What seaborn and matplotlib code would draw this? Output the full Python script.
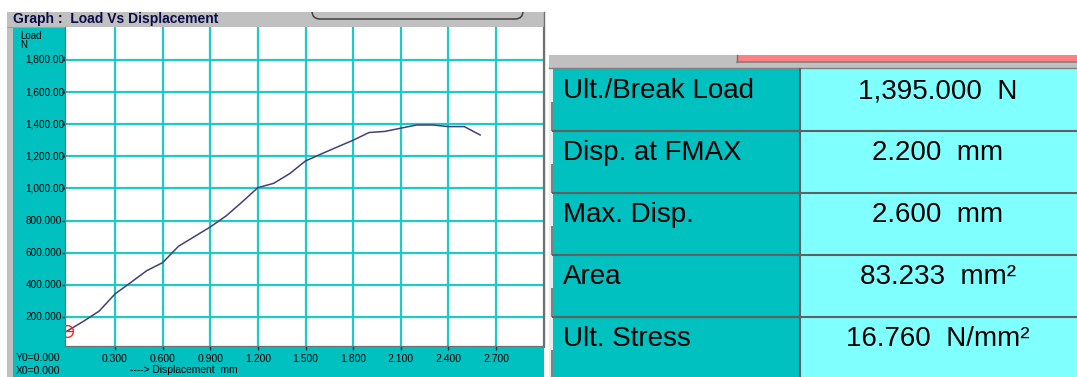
import pandas as pd
import seaborn as sns
import matplotlib.pyplot as plt
from matplotlib.patches import Rectangle, FancyBboxPatch
import matplotlib.transforms as mtransforms

# curve (displacement mm, load N)
disp = [0.0, 0.1, 0.2, 0.3, 0.4, 0.5, 0.6, 0.7, 0.8, 0.9, 1.0, 1.1, 1.2, 1.3,
        1.4, 1.5, 1.6, 1.7, 1.8, 1.9, 2.0, 2.1, 2.2, 2.3, 2.4, 2.5, 2.6]
load = [113, 172, 236, 343, 415, 488, 538, 640, 700, 760, 829, 915, 1005, 1032,
        1092, 1171, 1215, 1258, 1300, 1348, 1355, 1375, 1395, 1395, 1385, 1385, 1333]

x_ticks = [0.3, 0.6, 0.9, 1.2, 1.5, 1.8, 2.1, 2.4, 2.7]
y_ticks = [200, 400, 600, 800, 1000, 1200, 1400, 1600, 1800]

# result table
result_names = ["Ult./Break Load", "Disp. at FMAX", "Max. Disp.", "Area", "Ult. Stress"]
result_values = ["1,395.000  N", "2.200  mm", "2.600  mm", "83.233  mm²", "16.760  N/mm²"]

TEAL = "#00c0c0"
CYAN = "#80ffff"
GRAY = "#c0c0c0"
FONT = ["Liberation Sans", "DejaVu Sans"]

W, H = 1077, 377
fig = plt.figure(figsize=(W / 100, H / 100), dpi=100)
fig.patch.set_facecolor("white")
plt.rcParams["font.family"] = FONT

# background layer in pixel coords (y down)
bg = fig.add_axes([0, 0, 1, 1])
bg.set_xlim(0, W)
bg.set_ylim(H, 0)
bg.axis("off")


def px_axes(x0, y0, x1, y1, **kw):
    return fig.add_axes([x0 / W, 1 - y1 / H, (x1 - x0) / W, (y1 - y0) / H], **kw)


# ---- left window: graph
bg.add_patch(Rectangle((7, 12), 537, 365, fc=GRAY, ec="none"))
bg.plot([7, 544], [26.5, 26.5], color="#a0a0a0", lw=0.8)
# bottom of a button sitting above the window, only its rounded foot shows
bg.add_patch(FancyBboxPatch((312, -14), 211, 33, boxstyle="round,pad=0,rounding_size=8",
                            fc="none", ec="#404040", lw=1.1, zorder=2))
bg.add_patch(Rectangle((300, 0), 240, 12, fc="white", ec="none", zorder=3))
bg.text(13, 23, "Graph :  Load Vs Displacement", fontsize=10, fontweight="bold",
        color="#0c0c48", va="baseline")
bg.add_patch(Rectangle((13, 27), 531, 350, fc=TEAL, ec="none"))
bg.plot([544, 544], [12, 347], color="#707070", lw=1.0)

bg.text(20, 36, "Load", fontsize=7, va="center")
bg.text(20, 45, "N", fontsize=7, va="center")
bg.text(16, 358, "Y0=0.000", fontsize=7.5, va="center")
bg.text(16, 371, "X0=0.000", fontsize=7.5, va="center")
bg.text(130, 370, "----> Displacement  mm", fontsize=7.4, va="center")

ax = px_axes(65, 27, 543, 346)
ax.set_facecolor("white")
df = pd.DataFrame({"disp": disp, "load": load})
sns.lineplot(data=df, x="disp", y="load", ax=ax, color="#40407e", lw=1.1,
             estimator=None, sort=False)
ax.plot(disp[0], load[0], marker="o", ms=8.5, mfc="none", mec="#ff2020", mew=1.0)
ax.plot(disp[0], load[0], marker="_", ms=8.5, mec="#ff2020", mew=1.0)
ax.set_xlim(-0.015, 2.996)
ax.set_ylim(19, 2005)
ax.set_xticks(x_ticks)
ax.set_xticklabels([f"{v:.3f}" for v in x_ticks])
ax.set_yticks(y_ticks)
ax.set_xlabel("")
ax.set_ylabel("")
ax.grid(True, color="#1ccaca", lw=1.6)
ax.set_axisbelow(True)
ax.tick_params(axis="x", length=3, width=1, color="#303030", labelsize=7.5, pad=2.5)
ax.tick_params(axis="y", length=2, width=1, color="#303030", labelleft=False)
for s in ["left", "bottom", "right"]:
    ax.spines[s].set_color("#707070")
    ax.spines[s].set_linewidth(0.9)
ax.spines["top"].set_visible(False)

# y labels live in their own strip so the long ones get cut like on screen
lab = px_axes(13, 27, 64.5, 346)
lab.set_facecolor("none")
lab.set_ylim(ax.get_ylim())
lab.set_xticks([])
lab.set_yticks([])
for s in lab.spines.values():
    s.set_visible(False)
trans = mtransforms.blended_transform_factory(lab.transAxes, lab.transData)
for v in y_ticks:
    lab.text(0.245, v, f"{v:,.3f}", transform=trans, fontsize=7.2, va="center",
             ha="left", clip_on=True)

# ---- right window: results table
bg.add_patch(Rectangle((549, 55), 528, 14, fc=GRAY, ec="none"))
bg.add_patch(Rectangle((737, 55), 340, 6.5, fc="#ff8080", ec="none"))
bg.plot([737, 737], [55, 62], color="#707070", lw=1.0)
bg.plot([737, 1077], [62, 62], color="#808080", lw=1.2)
bg.plot([549, 1077], [67.5, 67.5], color="#808080", lw=1.0)
bg.add_patch(Rectangle((549, 69), 4, 308, fc="#ececec", ec="none"))
bg.add_patch(Rectangle((553, 69), 246, 308, fc=TEAL, ec="none"))
bg.add_patch(Rectangle((800, 69), 277, 308, fc=CYAN, ec="none"))
bg.plot([799.5, 799.5], [69, 377], color="#606060", lw=1.5)

row_h = 62
for i, (name, val) in enumerate(zip(result_names, result_values)):
    top = 69 + i * row_h
    if i > 0:
        bg.plot([553, 1077], [top - 0.5, top - 0.5], color="#606060", lw=1.5)
    bg.add_patch(Rectangle((550.5, top + 33), 2.5, row_h - 33, fc="#808080", ec="none"))
    bg.text(563, top + 29, name, fontsize=20, va="baseline", ha="left", color="black")
    bg.text(938, top + 29, val, fontsize=20, va="baseline", ha="center", color="black")

fig.savefig("out.png", dpi=100, facecolor="white")
